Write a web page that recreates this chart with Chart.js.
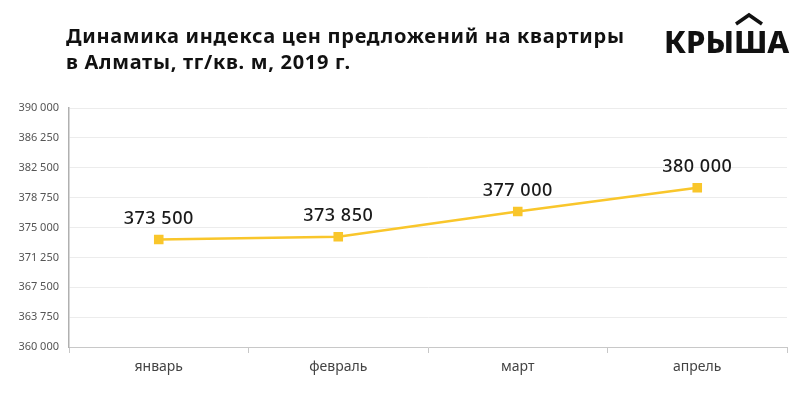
<!DOCTYPE html>
<html>
<head>
<meta charset="utf-8">
<script src="https://cdn.jsdelivr.net/npm/chart.js@4"></script>
<style>
  html, body { margin: 0; padding: 0; background: #fff; }
  #wrap { position: relative; width: 800px; height: 403px; overflow: hidden; }
  #title {
    position: absolute; left: 66px; top: 23px;
    font-family: "Noto Sans", sans-serif; font-weight: 700; font-size: 20px;
    letter-spacing: 0.7px; line-height: 26px; color: #111;
  }
  #logo {
    position: absolute; left: 664px; top: 20px;
    font-family: "Noto Sans", sans-serif; font-weight: 800; font-size: 31px;
    color: #111;
  }
  #roof { position: absolute; left: 734px; top: 12px; }
  canvas { position: absolute; left: 0; top: 0; }
</style>
</head>
<body>
<div id="wrap">
  <canvas id="chart" width="800" height="403"></canvas>
  <div id="title">Динамика индекса цен предложений на квартиры<br>в Алматы, тг/кв. м, 2019 г.</div>
  <div id="logo">КРЫША</div>
  <svg id="roof" width="30" height="14"><polyline points="2,12 15,3 28,12" fill="none" stroke="#111" stroke-width="3.5"/></svg>
</div>
<script>
const months = ['январь', 'февраль', 'март', 'апрель'];
const prices = [373500, 373850, 377000, 380000];
const yMin = 360000;
const yMax = 390000;
const yStep = 3750;

function fmt(v) {
  return String(v).replace(/\B(?=(\d{3})+(?!\d))/g, ' ');
}

// подписи значений над точками
const valueLabels = {
  id: 'valueLabels',
  afterDatasetsDraw(chart) {
    const ctx = chart.ctx;
    const meta = chart.getDatasetMeta(0);
    ctx.save();
    ctx.font = '500 18px "Noto Sans", sans-serif';
    ctx.letterSpacing = '0.5px';
    ctx.fillStyle = '#1a1a1a';
    ctx.textAlign = 'center';
    ctx.textBaseline = 'middle';
    meta.data.forEach((pt, i) => {
      ctx.fillText(fmt(prices[i]), pt.x, pt.y - 21);
    });
    ctx.restore();
  }
};

new Chart(document.getElementById('chart'), {
  type: 'line',
  data: {
    labels: months,
    datasets: [{
      data: prices,
      borderColor: '#f9c62b',
      backgroundColor: '#f9c62b',
      borderWidth: 2.5,
      pointStyle: 'rect',
      pointRadius: 5,
      pointHoverRadius: 5,
      tension: 0
    }]
  },
  options: {
    responsive: false,
    animation: false,
    layout: { padding: { top: 108, right: 13, left: 0, bottom: 0 } },
    plugins: { legend: { display: false }, tooltip: { enabled: false } },
    scales: {
      x: {
        offset: true,
        grid: { offset: true, drawOnChartArea: false, tickLength: 6, tickColor: '#c8c8c8' },
        border: { color: '#c8c8c8', width: 1 },
        ticks: { color: '#444', padding: 6, font: { family: '"Noto Sans", sans-serif', size: 14 } },
        afterFit(s) { s.height = 56; }
      },
      y: {
        min: yMin,
        max: yMax,
        grid: { color: '#ececec', drawTicks: false },
        border: { color: '#b0b0b0', width: 1.5 },
        ticks: {
          stepSize: yStep,
          color: '#555',
          padding: 10,
          font: { family: '"Noto Sans", sans-serif', size: 11 },
          callback: v => fmt(v)
        },
        afterFit(s) { s.width = 69; }
      }
    }
  },
  plugins: [valueLabels]
});
</script>
</body>
</html>
